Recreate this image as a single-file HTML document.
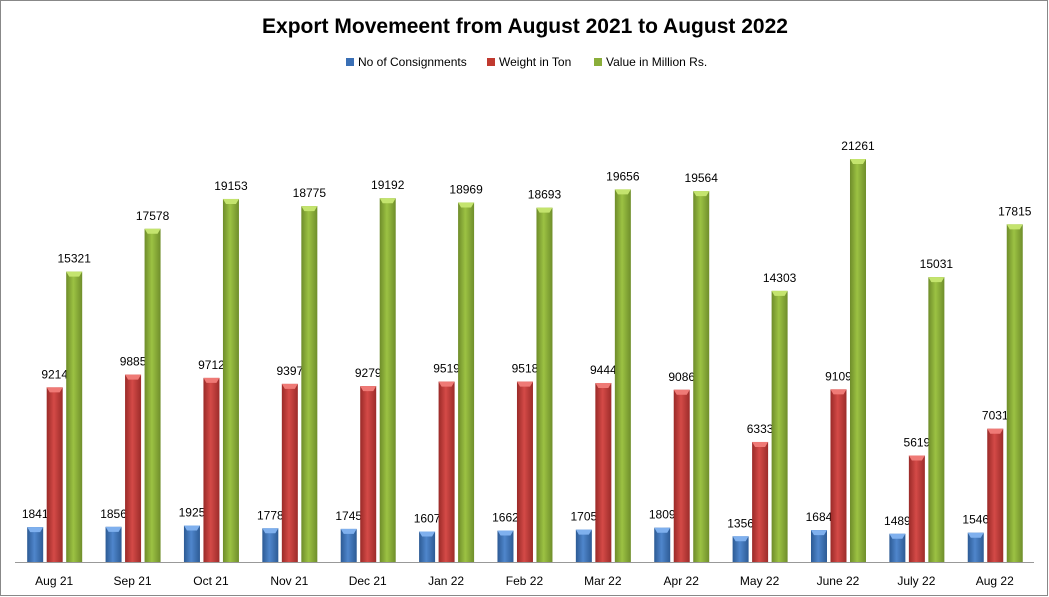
<!DOCTYPE html>
<html><head><meta charset="utf-8"><style>
html,body{margin:0;padding:0;background:#fff}
svg{display:block;font-family:"Liberation Sans",Calibri,sans-serif}
</style></head><body>
<svg width="1049" height="597" viewBox="0 0 1049 597" xmlns="http://www.w3.org/2000/svg">
<defs>
<linearGradient id="gb" x1="0" x2="1"><stop offset="0" stop-color="#2c5a94"/><stop offset="0.45" stop-color="#4f86cc"/><stop offset="1" stop-color="#2d5b95"/></linearGradient>
<linearGradient id="gr" x1="0" x2="1"><stop offset="0" stop-color="#9a2a28"/><stop offset="0.45" stop-color="#d44a47"/><stop offset="1" stop-color="#9c2c2a"/></linearGradient>
<linearGradient id="gg" x1="0" x2="1"><stop offset="0" stop-color="#6e8c2a"/><stop offset="0.45" stop-color="#9cc243"/><stop offset="1" stop-color="#6f8e2b"/></linearGradient>
</defs>
<rect x="0.5" y="0.5" width="1047" height="595" fill="#fff" stroke="#888"/>
<text x="525" y="33" text-anchor="middle" font-size="21" font-weight="bold" fill="#000">Export Movemeent from August 2021 to August 2022</text>
<g font-size="12" fill="#000">
<rect x="346" y="58" width="8" height="8" fill="#3a6fb5"/><text x="358" y="66">No of Consignments</text>
<rect x="487" y="58" width="8" height="8" fill="#c0392f"/><text x="499" y="66">Weight in Ton</text>
<rect x="594" y="58" width="8" height="8" fill="#8aae3a"/><text x="606" y="66">Value in Million Rs.</text>
</g>
<line x1="15" y1="562.5" x2="1034" y2="562.5" stroke="#999"/>
<g id="bars" font-size="12" fill="#000" text-anchor="middle"></g>
</svg>
<script>
var labs=["Aug 21","Sep 21","Oct 21","Nov 21","Dec 21","Jan 22","Feb 22","Mar 22","Apr 22","May 22","June 22","July 22","Aug 22"];
var b=[1841,1856,1925,1778,1745,1607,1662,1705,1809,1356,1684,1489,1546];
var r=[9214,9885,9712,9397,9279,9519,9518,9444,9086,6333,9109,5619,7031];
var g=[15321,17578,19153,18775,19192,18969,18693,19656,19564,14303,21261,15031,17815];
var s=403/21261, base=562, h='';
function bar(cx,v,fill,tip){var y=base-v*s;
 h+='<rect x="'+(cx-8)+'" y="'+y+'" width="16" height="'+(base-y)+'" fill="url(#'+fill+')"/>';
 h+='<polygon points="'+(cx-8)+','+y+' '+(cx+8)+','+y+' '+(cx+5)+','+(y+5)+' '+(cx-5)+','+(y+5)+'" fill="'+tip+'"/>';
 h+='<text x="'+cx+'" y="'+(y-9)+'">'+v+'</text>';}
for(var i=0;i<13;i++){var c=15+78.38*(i+0.5);
 bar(c-19,b[i],'gb','#7fb0ee');bar(c+0.5,r[i],'gr','#ef7a76');bar(c+20,g[i],'gg','#c4e46e');
 h+='<text x="'+c+'" y="585">'+labs[i]+'</text>';}
document.getElementById('bars').innerHTML=h;
</script>
</body></html>
